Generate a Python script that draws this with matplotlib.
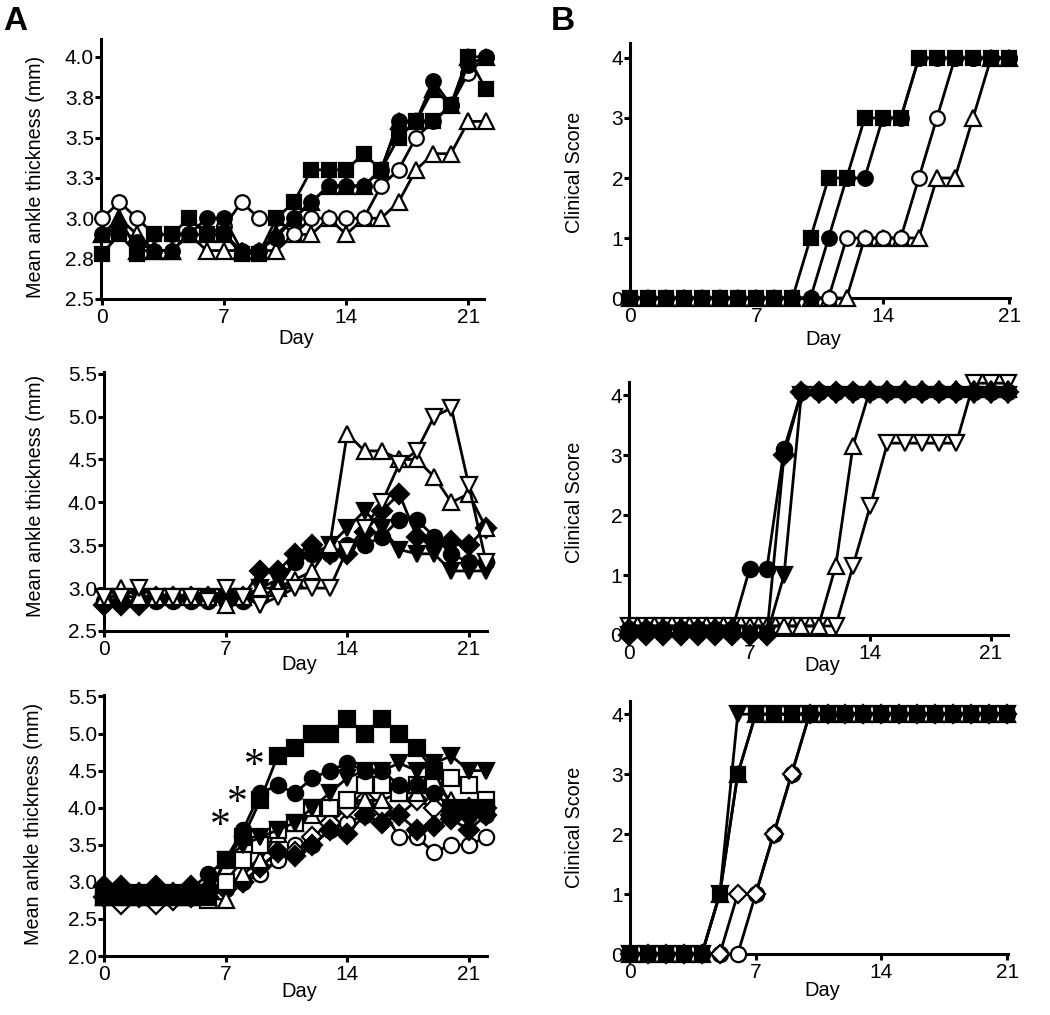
import matplotlib
matplotlib.use("Agg")
import matplotlib.pyplot as plt

plt.rcParams['font.family'] = ['Liberation Sans', 'DejaVu Sans']

# ---- data -------------------------------------------------------------
days23 = list(range(23))   # day 0..22
days22 = list(range(22))   # day 0..21

# A top: mean ankle thickness (mm)
at_sq_f = [2.78, 2.9, 2.78, 2.9, 2.9, 3.0, 2.9, 2.9, 2.78, 2.78, 3.0, 3.1, 3.3, 3.3, 3.3, 3.4, 3.3, 3.5, 3.6, 3.6, 3.7, 4.0, 3.8]
at_ci_f = [2.9, 2.95, 2.85, 2.8, 2.8, 2.9, 3.0, 3.0, 2.8, 2.8, 2.88, 3.0, 3.1, 3.2, 3.2, 3.2, 3.3, 3.6, 3.6, 3.85, 3.7, 3.95, 4.0]
at_tr_f = [2.9, 3.0, 2.8, 2.8, 2.8, 2.9, 2.9, 2.9, 2.8, 2.8, 2.9, 3.0, 3.1, 3.2, 3.2, 3.2, 3.3, 3.6, 3.6, 3.8, 3.7, 4.0, 4.0]
at_ci_o = [3.0, 3.1, 3.0, 2.9, 2.9, 2.9, 2.9, 2.95, 3.1, 3.0, 3.0, 2.9, 3.0, 3.0, 3.0, 3.0, 3.2, 3.3, 3.5, 3.6, 3.7, 3.9, 4.0]
at_tr_o = [2.9, 3.0, 2.9, 2.8, 2.8, 2.9, 2.8, 2.8, 2.8, 2.8, 2.8, 2.9, 2.9, 3.0, 2.9, 3.0, 3.0, 3.1, 3.3, 3.4, 3.4, 3.6, 3.6]
at_yticks = [2.5, 2.75, 3.0, 3.25, 3.5, 3.75, 4.0]
at_ylabels = ['2.5', '2.8', '3.0', '3.3', '3.5', '3.8', '4.0']

# A middle
am_ci_f = [2.85, 2.85, 2.85, 2.85, 2.85, 2.85, 2.85, 2.85, 2.85, 2.9, 3.0, 3.3, 3.4, 3.4, 3.5, 3.5, 3.6, 3.8, 3.8, 3.6, 3.4, 3.3, 3.3]
am_di_f = [2.8, 2.8, 2.8, 2.9, 2.9, 2.9, 2.9, 2.9, 2.9, 3.2, 3.2, 3.4, 3.5, 3.4, 3.4, 3.65, 3.9, 4.1, 3.6, 3.55, 3.55, 3.5, 3.7]
am_td_f = [2.9, 2.9, 2.9, 2.9, 2.9, 2.9, 2.9, 2.9, 2.9, 3.0, 3.1, 3.3, 3.4, 3.5, 3.7, 3.9, 3.7, 3.45, 3.4, 3.4, 3.2, 3.2, 3.2]
am_tu_o = [2.9, 3.0, 2.9, 2.9, 2.9, 2.9, 2.9, 2.8, 2.9, 3.0, 3.0, 3.1, 3.2, 3.5, 4.8, 4.6, 4.6, 4.5, 4.5, 4.3, 4.0, 4.1, 3.7]
am_td_o = [2.9, 2.9, 3.0, 2.9, 2.9, 2.9, 2.85, 3.0, 2.9, 2.8, 2.9, 3.0, 3.0, 3.0, 3.45, 3.7, 4.0, 4.45, 4.6, 5.0, 5.1, 4.2, 3.3]
am_yticks = [2.5, 3.0, 3.5, 4.0, 4.5, 5.0, 5.5]

# A bottom
ab_sq_f = [2.8, 2.8, 2.8, 2.8, 2.8, 2.8, 2.8, 3.3, 3.6, 4.1, 4.7, 4.8, 5.0, 5.0, 5.2, 5.0, 5.2, 5.0, 4.8, 4.5, 4.0, 4.0, 4.0]
ab_ci_f = [2.9, 2.9, 2.85, 2.85, 2.85, 2.9, 3.1, 3.3, 3.7, 4.2, 4.3, 4.2, 4.4, 4.5, 4.6, 4.5, 4.5, 4.3, 4.3, 4.2, 4.0, 3.9, 3.9]
ab_td_f = [2.85, 2.85, 2.85, 2.85, 2.85, 2.85, 2.85, 3.3, 3.5, 3.6, 3.7, 3.8, 4.0, 4.2, 4.4, 4.5, 4.5, 4.6, 4.5, 4.6, 4.7, 4.5, 4.5]
ab_sq_o = [2.8, 2.8, 2.8, 2.8, 2.8, 2.8, 2.75, 3.0, 3.3, 3.5, 3.7, 3.8, 4.0, 4.0, 4.1, 4.3, 4.3, 4.2, 4.3, 4.3, 4.4, 4.3, 4.1]
ab_tu_o = [2.8, 2.8, 2.8, 2.8, 2.8, 2.8, 2.8, 2.75, 3.1, 3.3, 3.65, 3.8, 3.9, 4.0, 4.1, 4.1, 4.1, 4.2, 4.2, 4.3, 4.1, 4.0, 4.0]
ab_di_f = [2.95, 2.95, 2.85, 2.95, 2.85, 2.95, 2.9, 2.95, 3.0, 3.2, 3.4, 3.35, 3.5, 3.7, 3.65, 3.9, 3.8, 3.9, 3.7, 3.75, 3.85, 3.7, 3.9]
ab_di_o = [2.8, 2.7, 2.8, 2.7, 2.75, 2.8, 2.8, 2.9, 3.0, 3.2, 3.4, 3.4, 3.6, 3.8, 4.0, 4.1, 4.0, 3.9, 4.1, 4.0, 3.9, 4.0, 4.0]
ab_ci_o = [2.8, 2.8, 2.8, 2.8, 2.8, 2.8, 2.8, 2.9, 3.0, 3.1, 3.3, 3.5, 3.5, 3.7, 3.8, 3.9, 4.0, 3.6, 3.6, 3.4, 3.5, 3.5, 3.6]
ab_yticks = [2.0, 2.5, 3.0, 3.5, 4.0, 4.5, 5.0, 5.5]
sig_days = [7, 8, 9]

# B top: clinical score
bt_sq_f = [0, 0, 0, 0, 0, 0, 0, 0, 0, 0, 1, 2, 2, 3, 3, 3, 4, 4, 4, 4, 4, 4]
bt_ci_f = [0, 0, 0, 0, 0, 0, 0, 0, 0, 0, 0, 1, 2, 2, 3, 3, 4, 4, 4, 4, 4, 4]
bt_ci_o = [0, 0, 0, 0, 0, 0, 0, 0, 0, 0, 0, 0, 1, 1, 1, 1, 2, 3, 4, 4, 4, 4]
bt_tr_o = [0, 0, 0, 0, 0, 0, 0, 0, 0, 0, 0, 0, 0, 1, 1, 1, 1, 2, 2, 3, 4, 4]

# B middle
bm_ci_f = [0.1, 0.1, 0.1, 0.1, 0.1, 0.1, 0.1, 1.1, 1.1, 3.1, 4.05, 4.05, 4.05, 4.05, 4.05, 4.05, 4.05, 4.05, 4.05, 4.05, 4.05, 4.05, 4.05]
bm_td_f = [0, 0, 0, 0, 0, 0, 0, 0, 0, 1.0, 4.0, 4.0, 4.0, 4.0, 4.0, 4.0, 4.0, 4.0, 4.0, 4.0, 4.0, 4.0, 4.0]
bm_di_f = [0, 0, 0, 0, 0, 0, 0, 0, 0, 3.0, 4.05, 4.05, 4.05, 4.05, 4.05, 4.05, 4.05, 4.05, 4.05, 4.05, 4.05, 4.05, 4.05]
bm_tu_o = [0.15, 0.15, 0.15, 0.15, 0.15, 0.15, 0.15, 0.15, 0.15, 0.15, 0.15, 0.15, 1.15, 3.15, 4.1, 4.1, 4.1, 4.1, 4.1, 4.1, 4.1, 4.1, 4.1]
bm_td_o = [0.15, 0.15, 0.15, 0.15, 0.15, 0.15, 0.15, 0.15, 0.15, 0.15, 0.15, 0.15, 0.15, 1.15, 2.15, 3.2, 3.2, 3.2, 3.2, 3.2, 4.2, 4.2, 4.2]

# B bottom
bb_ci_o = [0, 0, 0, 0, 0, 0, 0, 1, 2, 3, 4, 4, 4, 4, 4, 4, 4, 4, 4, 4, 4, 4]
bb_di_o = [0, 0, 0, 0, 0, 0, 1, 1, 2, 3, 4, 4, 4, 4, 4, 4, 4, 4, 4, 4, 4, 4]
bb_sq_f = [0, 0, 0, 0, 0, 1, 3, 4, 4, 4, 4, 4, 4, 4, 4, 4, 4, 4, 4, 4, 4, 4]
bb_tu_f = [0, 0, 0, 0, 0, 1, 3, 4, 4, 4, 4, 4, 4, 4, 4, 4, 4, 4, 4, 4, 4, 4]
bb_td_f = [0, 0, 0, 0, 0, 1, 4, 4, 4, 4, 4, 4, 4, 4, 4, 4, 4, 4, 4, 4, 4, 4]

score_ticks = [0, 1, 2, 3, 4]
day_ticks = [0, 7, 14, 21]

# ---- figure -----------------------------------------------------------
W, H = 1050, 1015
fig = plt.figure(figsize=(W / 100, H / 100), dpi=100)


def make_ax(l, t, r, b):
    return fig.add_axes([l / W, 1 - b / H, (r - l) / W, (b - t) / H])


def style(ax, xlim, ylim, yticks, ylab, ylab_x, ylab_y, day_y, ylabels=None, yfs=15):
    ax.set_xlim(*xlim)
    ax.set_ylim(*ylim)
    for s in ['top', 'right']:
        ax.spines[s].set_visible(False)
    for s in ['left', 'bottom']:
        ax.spines[s].set_linewidth(2.2)
    ax.set_xticks(day_ticks)
    ax.set_yticks(yticks)
    if ylabels is not None:
        ax.set_yticklabels(ylabels)
    ax.tick_params(axis='both', direction='out', length=4, width=2.2)
    ax.tick_params(axis='x', labelsize=15, pad=2.5)
    ax.tick_params(axis='y', labelsize=yfs, pad=1)
    ax.set_ylabel(ylab, fontsize=14.2, va='center')
    ax.yaxis.set_label_coords(ylab_x, ylab_y)
    ax.set_xlabel('Day', fontsize=14.5, va='center')
    ax.xaxis.set_label_coords(0.51, day_y)


def series(ax, x, y, marker, filled, ms=10.5, z=3):
    ax.plot(x, y, color='k', lw=2.0, marker=marker, ms=ms,
            mfc='k' if filled else 'white', mec='k', mew=1.6,
            clip_on=False, zorder=z)


# A top
ax = make_ax(101, 39, 484, 299)
series(ax, days23, at_tr_o, '^', False, ms=11.5)
series(ax, days23, at_ci_o, 'o', False)
series(ax, days23, at_tr_f, '^', True, ms=11.5)
series(ax, days23, at_ci_f, 'o', True)
series(ax, days23, at_sq_f, 's', True, ms=10)
style(ax, (-0.06, 21.9), (2.5, 4.11), at_yticks, 'Mean ankle thickness (mm)',
      -0.17, 0.47, -0.15, at_ylabels)

# A middle
ax = make_ax(104, 372, 487, 631)
series(ax, days23, am_ci_f, 'o', True, ms=11)
series(ax, days23, am_di_f, 'D', True, ms=10)
series(ax, days23, am_td_f, 'v', True, ms=12)
series(ax, days23, am_tu_o, '^', False, ms=12)
series(ax, days23, am_td_o, 'v', False, ms=12)
style(ax, (0, 22.05), (2.5, 5.52), am_yticks, 'Mean ankle thickness (mm)',
      -0.18, 0.52, -0.13)

# A bottom
ax = make_ax(104, 695, 487, 956)
series(ax, days23, ab_ci_o, 'o', False, ms=11)
series(ax, days23, ab_di_o, 'D', False, ms=10)
series(ax, days23, ab_di_f, 'D', True, ms=10.5)
series(ax, days23, ab_tu_o, '^', False, ms=11)
series(ax, days23, ab_sq_o, 's', False, ms=11)
series(ax, days23, ab_td_f, 'v', True, ms=12)
series(ax, days23, ab_ci_f, 'o', True, ms=11)
series(ax, days23, ab_sq_f, 's', True, ms=12)
for d in sig_days:
    ax.annotate('*', xy=(d, ab_sq_f[d]), xytext=(-4, 24), textcoords='offset points',
                ha='center', va='center', fontsize=30, family='Liberation Serif')
style(ax, (0, 22.05), (2.0, 5.52), ab_yticks, 'Mean ankle thickness (mm)',
      -0.185, 0.506, -0.135)

# B top
ax = make_ax(630, 43, 1010, 298)
series(ax, days22, bt_tr_o, '^', False, ms=11.5)
series(ax, days22, bt_ci_o, 'o', False, ms=10.5)
series(ax, days22, bt_ci_f, 'o', True, ms=10.5)
series(ax, days22, bt_sq_f, 's', True, ms=10)
style(ax, (0, 21.05), (0, 4.25), score_ticks, 'Clinical Score',
      -0.147, 0.494, -0.163)

# B middle
ax = make_ax(629, 382, 1008, 635)
series(ax, days23, bm_td_o, 'v', False, ms=12)
series(ax, days23, bm_tu_o, '^', False, ms=12)
series(ax, days23, bm_di_f, 'D', True, ms=10)
series(ax, days23, bm_ci_f, 'o', True, ms=11)
series(ax, days23, bm_td_f, 'v', True, ms=12)
style(ax, (0, 22), (0, 4.22), score_ticks, 'Clinical Score',
      -0.145, 0.524, -0.12)

# B bottom
ax = make_ax(630, 701, 1008, 954)
series(ax, days22, bb_ci_o, 'o', False, ms=11)
series(ax, days22, bb_di_o, 'D', False, ms=9.5)
series(ax, days22, bb_sq_f, 's', True, ms=10)
series(ax, days22, bb_tu_f, '^', True, ms=11.5)
series(ax, days22, bb_td_f, 'v', True, ms=11.5)
style(ax, (0, 21.05), (0, 4.22), score_ticks, 'Clinical Score',
      -0.148, 0.502, -0.145)

fig.text(3 / W, 1 - 22 / H, 'A', fontsize=24, fontweight='bold', va='center', ha='left')
fig.text(551 / W, 1 - 22 / H, 'B', fontsize=24, fontweight='bold', va='center', ha='left')

fig.savefig('out.png', dpi=100)
